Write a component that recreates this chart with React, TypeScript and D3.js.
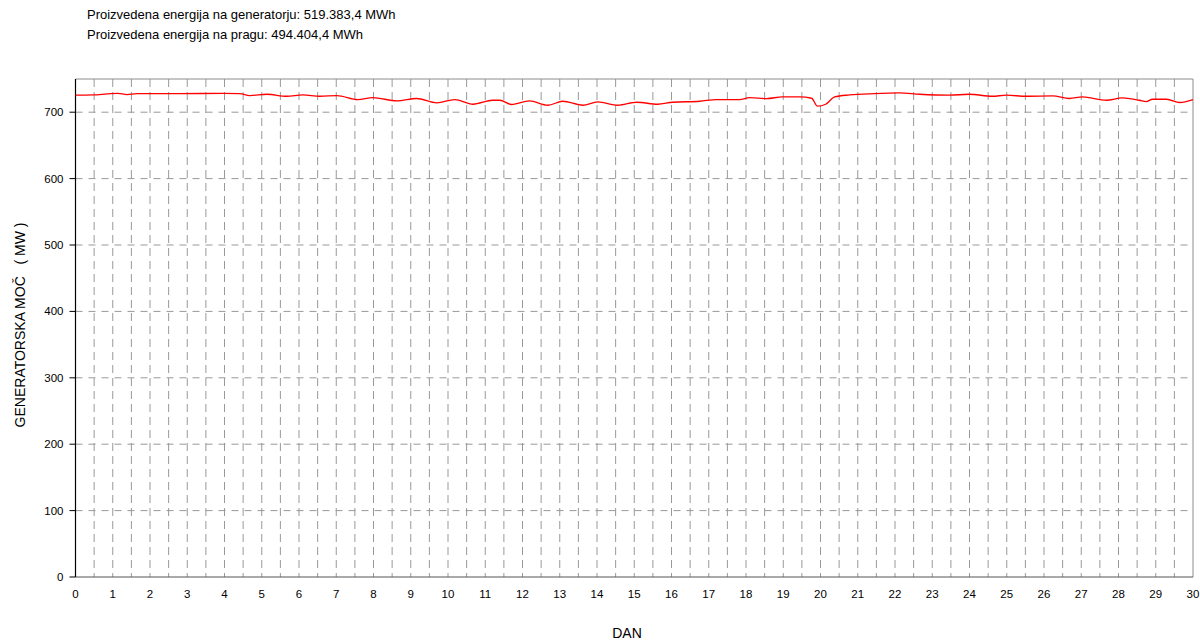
import React from 'react';
import * as d3 from 'd3';

// data (day, generator power in MW)
const days = [
  0.0, 0.47, 0.85, 1.14, 1.38, 1.65, 2.8, 3.96, 4.41, 4.68, 5.14, 5.67, 6.1, 6.56, 7.02, 7.58, 7.98,
  8.63, 9.16, 9.7, 10.18, 10.67, 11.2, 11.39, 11.71, 12.19, 12.68, 13.08, 13.62, 14.02, 14.56, 15.07,
  15.63, 16.03, 16.76, 17.21, 17.83, 18.1, 18.55, 18.98, 19.44, 19.76, 19.92, 20.14, 20.38, 20.78,
  21.45, 22.12, 22.66, 23.46, 23.99, 24.61, 24.99, 25.53, 26.23, 26.68, 27.03, 27.68, 28.1, 28.56,
  28.75, 28.91, 29.29, 29.64, 30.0,
];
const power = [
  725.6, 726, 727.5, 728.5, 726.6, 728, 728, 728.3, 728, 725, 727, 724, 726, 724, 725, 719, 722,
  717, 720.6, 714, 719, 712, 718, 718, 711.6, 717, 710.5, 716.5, 710.5, 715.5, 710.5, 715,
  712, 715, 716.5, 719, 719, 722, 720.5, 723, 723, 721, 709, 712, 723, 726,
  728, 729, 727, 725.6, 727, 724, 725.6, 724, 724.5, 720.6, 723, 718, 721.5, 718,
  716, 719.5, 719.5, 714.6, 719,
];
const xTicks = d3.range(0, 31);
const yTicks = [0, 100, 200, 300, 400, 500, 600, 700];
const titleLines = [
  'Proizvedena energija na generatorju: 519.383,4 MWh',
  'Proizvedena energija na pragu: 494.404,4 MWh',
];

const W = 1200;
const H = 641;
const left = 75.5;
const right = 1193;
const top = 79;
const bottom = 577;

const App = () => {
  const x = d3.scaleLinear().domain([0, 30]).range([left, right]);
  const y = d3.scaleLinear().domain([0, 750]).range([bottom, top]);

  const line = d3
    .line<number>()
    .x((d, i) => x(days[i]))
    .y(d => y(d))
    .curve(d3.curveMonotoneX);

  const halfDays = d3.range(0.5, 30, 0.5);
  const font = 'Liberation Sans, Arial, sans-serif';

  return (
    <svg width={W} height={H} style={{ position: 'absolute', left: 0, top: 0 }} fontFamily={font}>
      <rect x={0} y={0} width={W} height={H} fill="#fff" />
      {titleLines.map((t, i) => (
        <text key={t} x={87} y={19 + i * 20} fontSize={13} fill="#000">
          {t}
        </text>
      ))}

      {/* vertical grid every half day */}
      {halfDays.map(d => (
        <line
          key={'v' + d}
          x1={x(d)}
          x2={x(d)}
          y1={top}
          y2={bottom}
          stroke="#999"
          strokeWidth={1}
          strokeDasharray="8,5"
        />
      ))}
      {/* horizontal grid */}
      {yTicks.slice(1).map(v => (
        <line
          key={'h' + v}
          x1={left}
          x2={right}
          y1={y(v)}
          y2={y(v)}
          stroke="#999"
          strokeWidth={1}
          strokeDasharray="7,6"
        />
      ))}

      {/* frame */}
      <line x1={left} x2={right} y1={top} y2={top} stroke="#8c8c8c" />
      <line x1={right} x2={right} y1={top} y2={bottom} stroke="#8c8c8c" />
      <line x1={left} x2={right} y1={bottom} y2={bottom} stroke="#555" />
      <line x1={left} x2={left} y1={top} y2={bottom} stroke="#000" strokeWidth={1.2} />

      {yTicks.map(v => (
        <g key={'yt' + v}>
          <line x1={left - 6} x2={left} y1={y(v)} y2={y(v)} stroke="#000" />
          <text x={left - 12} y={y(v)} dy="0.35em" textAnchor="end" fontSize={11.5} fill="#000">
            {v}
          </text>
        </g>
      ))}
      {xTicks.map(d => (
        <text key={'xt' + d} x={x(d)} y={598} textAnchor="middle" fontSize={11.5} fill="#000">
          {d}
        </text>
      ))}

      <path d={line(power) || ''} fill="none" stroke="#ff0000" strokeWidth={1.3} />

      <text x={627} y={638} textAnchor="middle" fontSize={14} fill="#000">
        DAN
      </text>
      <text
        transform={`translate(25,325) rotate(-90)`}
        textAnchor="middle"
        fontSize={14}
        fill="#000"
        style={{ whiteSpace: 'pre' }}
      >
        {'GENERATORSKA MOČ   ( MW )'}
      </text>
    </svg>
  );
};

export default App;
